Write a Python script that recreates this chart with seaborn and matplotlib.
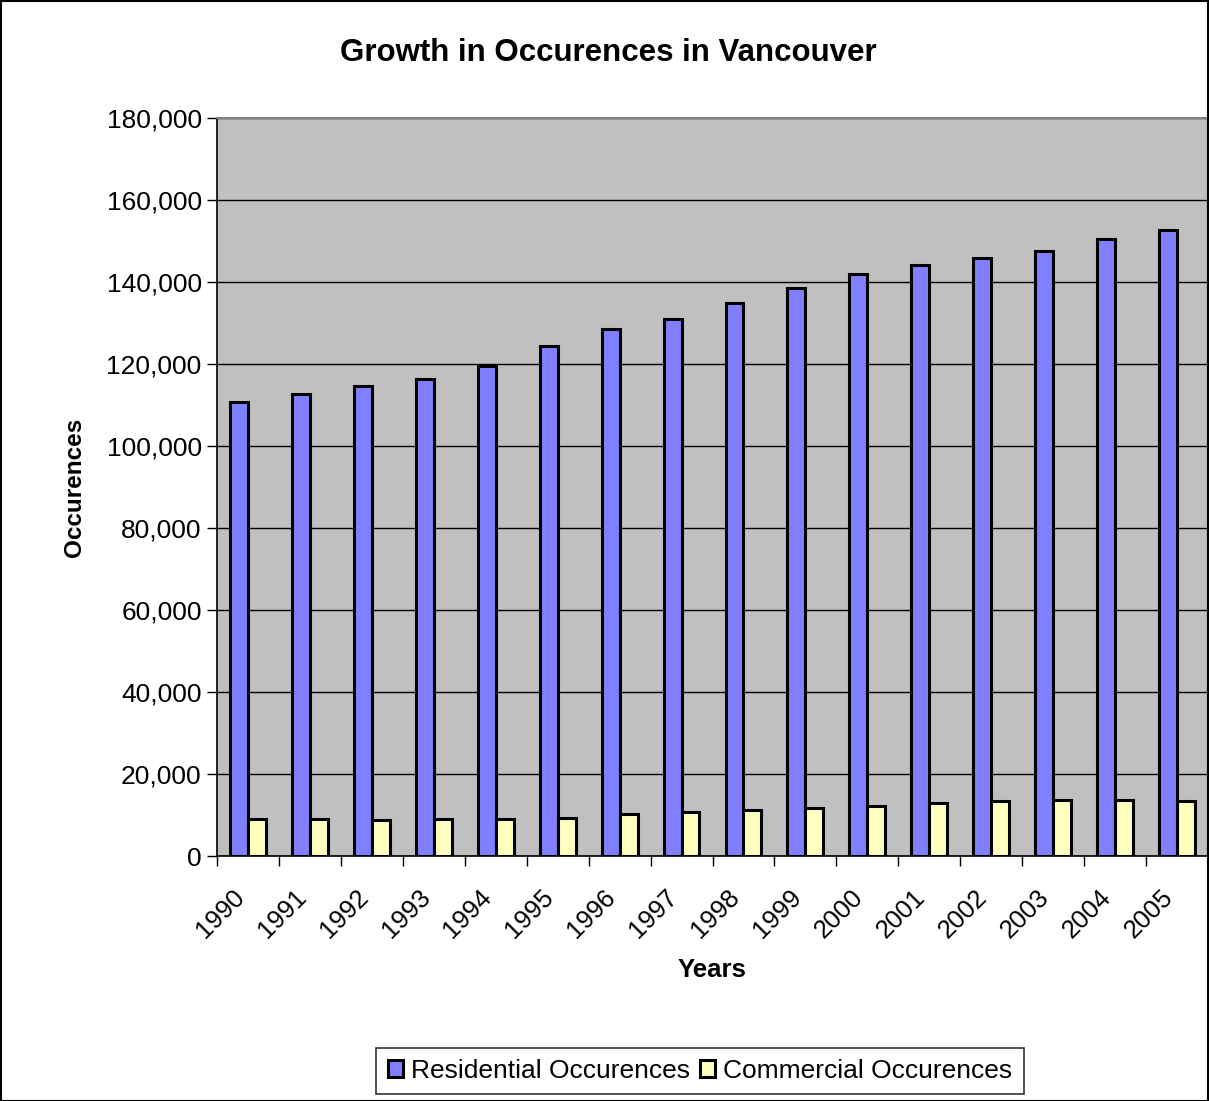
import matplotlib
matplotlib.use("Agg")
import matplotlib.pyplot as plt
import matplotlib.ticker as mticker
import matplotlib.transforms as mtransforms
import seaborn as sns
import pandas as pd
import numpy as np

years = ["1990", "1991", "1992", "1993", "1994", "1995", "1996", "1997",
         "1998", "1999", "2000", "2001", "2002", "2003", "2004", "2005"]
residential = [110800, 112600, 114700, 116400, 119600, 124400, 128500, 131000,
               134800, 138500, 142000, 144100, 145900, 147600, 150600, 152800]
commercial = [9100, 9000, 8900, 9100, 9000, 9300, 10200, 10700,
              11100, 11700, 12200, 13000, 13500, 13600, 13700, 13500]
series_names = ["Residential Occurences", "Commercial Occurences"]
colors = ["#8080FF", "#FFFFC0"]

df = pd.DataFrame({
    "Year": years * 2,
    "Series": [series_names[0]] * len(years) + [series_names[1]] * len(years),
    "Value": residential + commercial,
})

sns.set_theme(style="white")
plt.rcParams["font.family"] = ["Liberation Sans", "DejaVu Sans"]
for k in ["text.color", "axes.labelcolor", "xtick.color", "ytick.color"]:
    plt.rcParams[k] = "black"

fig = plt.figure(figsize=(12.09, 11.01), dpi=100)
fig.patch.set_facecolor("white")
ax = fig.add_axes([217 / 1209, 1 - 856 / 1101, (1208 - 217) / 1209, (856 - 118) / 1101])

sns.barplot(data=df, x="Year", y="Value", hue="Series", palette=colors,
            width=0.58, gap=0, edgecolor="black", linewidth=2.2, ax=ax,
            saturation=1, legend=True)

ax.set_facecolor("#C0C0C0")
ax.set_ylim(0, 180000)
ax.set_xlim(-0.5, len(years) - 0.5)
ax.set_yticks(np.arange(0, 180001, 20000))
ax.yaxis.set_major_formatter(mticker.FuncFormatter(lambda v, p: f"{int(v):,}"))
ax.grid(axis="y", color="black", linewidth=1)
ax.set_axisbelow(True)
for s in ["top", "right"]:
    ax.spines[s].set_color("#808080")
    ax.spines[s].set_linewidth(1.5)
for s in ["left", "bottom"]:
    ax.spines[s].set_color("black")
    ax.spines[s].set_linewidth(1.2)

ax.tick_params(axis="y", which="major", length=7, width=1, color="black",
               labelsize=19, left=True, pad=4)
ax.tick_params(axis="x", which="major", length=0, labelsize=18.5, pad=21)
ax.set_xticks(np.arange(-0.5, len(years), 1.0), minor=True)
ax.tick_params(axis="x", which="minor", length=7, width=1, color="black", bottom=True)
shift = mtransforms.ScaledTranslation(-16 / 100, 0, fig.dpi_scale_trans)
for lbl in ax.get_xticklabels():
    lbl.set_rotation(45)
    lbl.set_ha("right")
    lbl.set_rotation_mode("anchor")
    lbl.set_transform(lbl.get_transform() + shift)

ax.set_xlabel("Years", fontsize=18.5, fontweight="bold")
ax.set_ylabel("Occurences", fontsize=17.5, fontweight="bold")
ax.xaxis.set_label_coords(712.5 / 1209, 1 - 970 / 1101, transform=fig.transFigure)
ax.xaxis.label.set_va("center")
ax.yaxis.set_label_coords(75 / 1209, 1 - 487 / 1101, transform=fig.transFigure)
ax.yaxis.label.set_va("center")
fig.text(608 / 1209, 1 - 53 / 1101, "Growth in Occurences in Vancouver",
         fontsize=22.5, fontweight="bold", ha="center", va="center")

leg = ax.legend(loc="center", bbox_to_anchor=(700 / 1209, 1 - 1071 / 1101),
                bbox_transform=fig.transFigure, ncol=2, fontsize=19,
                frameon=True, fancybox=False, edgecolor="black",
                handlelength=0.6, handleheight=0.6, handletextpad=0.3,
                columnspacing=0.35, borderpad=0.42, borderaxespad=0, title=None)
leg.get_frame().set_linewidth(1.2)

fig.add_artist(plt.Rectangle((0.5 / 1209, 0.5 / 1101), 1 - 1.5 / 1209, 1 - 1.5 / 1101,
                             transform=fig.transFigure, fill=False,
                             edgecolor="black", linewidth=1.5))

fig.savefig("out.png", dpi=100)
